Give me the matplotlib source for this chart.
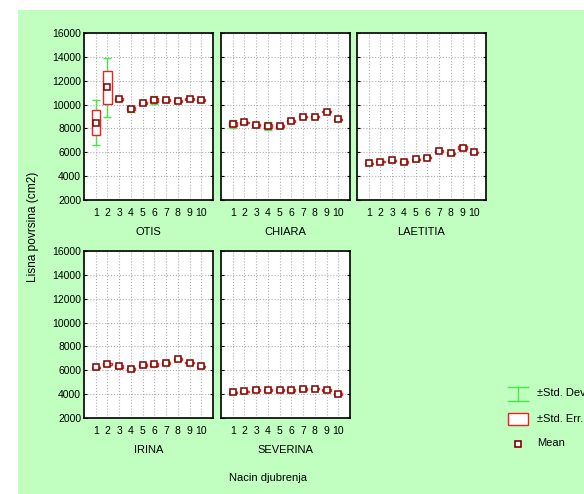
import numpy as np
import matplotlib.pyplot as plt
from matplotlib.patches import Rectangle

plt.rcParams['font.family'] = ['Liberation Sans', 'DejaVu Sans']

# treatments (Nacin djubrenja)
treat = [1, 2, 3, 4, 5, 6, 7, 8, 9, 10]

# means per cultivar (cm2)
otis_mean = [8480, 11450, 10460, 9660, 10160, 10380, 10400, 10300, 10460, 10380]
chiara_mean = [8370, 8500, 8260, 8200, 8200, 8620, 8980, 8980, 9400, 8760]
laetitia_mean = [5080, 5210, 5320, 5210, 5410, 5550, 6100, 5910, 6400, 6000]
irina_mean = [6240, 6520, 6320, 6100, 6440, 6490, 6610, 6940, 6630, 6320]
severina_mean = [4150, 4240, 4340, 4340, 4340, 4320, 4450, 4450, 4340, 4040]

# standard deviations
otis_sd = [1870, 2480, 120, 250, 120, 350, 100, 120, 100, 80]
chiara_sd = [300, 120, 120, 300, 150, 120, 100, 100, 100, 100]
laetitia_sd = [100, 100, 100, 120, 100, 100, 100, 120, 220, 100]
irina_sd = [100, 120, 150, 150, 180, 150, 150, 100, 100, 100]
severina_sd = [100, 100, 100, 100, 100, 120, 150, 100, 100, 120]

# standard errors
otis_se = [1040, 1390, 60, 150, 80, 200, 60, 70, 60, 50]
chiara_se = [170, 70, 70, 170, 90, 70, 60, 60, 60, 60]
laetitia_se = [60, 60, 60, 70, 60, 60, 60, 70, 130, 60]
irina_se = [60, 70, 90, 90, 100, 90, 90, 60, 60, 60]
severina_se = [60, 60, 60, 60, 60, 70, 90, 60, 60, 70]

names = ['OTIS', 'CHIARA', 'LAETITIA', 'IRINA', 'SEVERINA']
means = [otis_mean, chiara_mean, laetitia_mean, irina_mean, severina_mean]
sds = [otis_sd, chiara_sd, laetitia_sd, irina_sd, severina_sd]
ses = [otis_se, chiara_se, laetitia_se, irina_se, severina_se]

W, H = 584, 494
fig = plt.figure(figsize=(W / 100, H / 100), dpi=100)
fig.patch.set_facecolor('white')
# green background area
fig.patches.append(Rectangle((18 / W, 0), 1 - 18 / W, 1 - 10 / H,
                             transform=fig.transFigure, facecolor='#c0ffc0',
                             edgecolor='none', zorder=-10))

green = '#44e844'
red = '#f02020'
dark = '#800000'

lefts = [84, 221, 357]
tops = [33, 251]
pw, ph = 129, 167

for i, name in enumerate(names):
    r, c = divmod(i, 3)
    ax = fig.add_axes([lefts[c] / W, 1 - (tops[r] + ph) / H, pw / W, ph / H])
    ax.set_facecolor('white')
    m = np.array(means[i])
    sd = np.array(sds[i])
    se = np.array(ses[i])
    ax.errorbar(treat, m, yerr=sd, fmt='none', ecolor=green, elinewidth=1,
                capsize=3, capthick=1, zorder=2)
    ax.bar(treat, 2 * se, bottom=m - se, width=0.7, facecolor='white',
           edgecolor=red, linewidth=1, zorder=3)
    ax.plot(treat, m, ls='none', marker='s', ms=4.2, mfc='white', mec=dark,
            mew=1.1, zorder=4)
    ax.set_xlim(0, 11)
    ax.set_ylim(2000, 16000)
    ax.set_xticks(treat)
    ax.set_yticks(range(2000, 16001, 2000))
    ax.grid(True, color='#b0b0b0', ls=':', lw=0.8)
    ax.set_axisbelow(True)
    ax.tick_params(direction='in', length=2, labelsize=7.5,
                   top=True, right=True)
    ax.tick_params(axis='y', pad=2)
    ax.tick_params(axis='x', length=0, pad=6)
    if c > 0:
        ax.tick_params(labelleft=False)
    ax.set_xlabel(name, fontsize=8, labelpad=6)
    for s in ax.spines.values():
        s.set_linewidth(1.2)

fig.text(33 / W, 1 - 227 / H, 'Lisna povrsina (cm2)', rotation=90,
         ha='center', va='center', fontsize=8.6)
fig.text(268 / W, 1 - 478 / H, 'Nacin djubrenja', ha='center', va='center',
         fontsize=8)

# legend
lg = fig.add_axes([0, 0, 1, 1], facecolor='none')
lg.set_xlim(0, W)
lg.set_ylim(H, 0)
lg.axis('off')
lg.plot([508, 528], [387, 387], color=green, lw=1)
lg.plot([508, 528], [401, 401], color=green, lw=1)
lg.plot([518, 518], [387, 401], color=green, lw=1)
lg.add_patch(Rectangle((508, 413), 20, 12, facecolor='white', edgecolor=red,
                       lw=1))
lg.plot([518], [444], ls='none', marker='s', ms=4, mfc='white', mec=dark,
        mew=1.2)
for y, t in zip([393, 419, 443], ['±Std. Dev.', '±Std. Err.', 'Mean']):
    lg.text(537, y, t, ha='left', va='center', fontsize=8)

fig.savefig('out.png', dpi=100)
